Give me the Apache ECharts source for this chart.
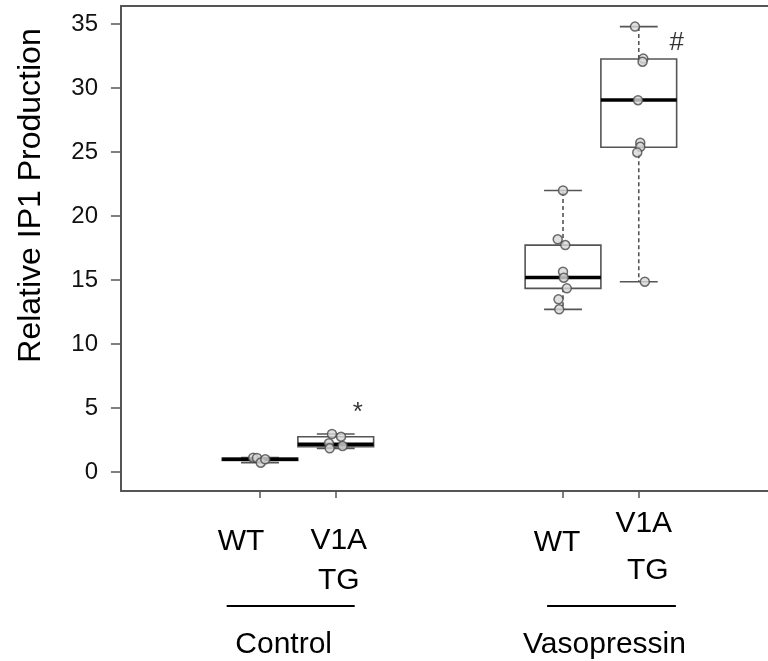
<!DOCTYPE html>
<html>
<head>
<meta charset="utf-8">
<script src="https://cdn.jsdelivr.net/npm/echarts@6/dist/echarts.min.js"></script>
<style>
  html, body { margin: 0; padding: 0; background: #fff; }
  #chart { width: 768px; height: 661px; }
</style>
</head>
<body>
<div id="chart"></div>
<script>
// group positions on the x axis and their labels
const positions = [1, 2, 5, 6];
const tickLabels = ["WT", "V1A\nTG", "WT", "V1A\nTG"];
const groupNames = ["Control", "Vasopressin"];
const groupSpans = [[0.56, 2.25], [4.79, 6.49]];
const yTicks = [0, 5, 10, 15, 20, 25, 30, 35];

// box stats: [min, q1, median, q3, max]
const ctrlWtBox = [0.73, 0.9, 1.0, 1.08, 1.12];
const ctrlTgBox = [1.85, 1.98, 2.16, 2.76, 2.97];
const vasoWtBox = [12.71, 14.35, 15.2, 17.73, 22.0];
const vasoTgBox = [14.87, 25.37, 29.06, 32.27, 34.8];

// individual points and their horizontal jitter
const ctrlWtPts = [1.12, 1.1, 0.73, 0.99];
const ctrlWtJit = [-0.09, -0.04, 0.01, 0.07];
const ctrlTgPts = [2.97, 2.76, 2.24, 1.85, 2.03];
const ctrlTgJit = [-0.05, 0.07, -0.09, -0.08, 0.09];
const vasoWtPts = [22.0, 18.18, 17.73, 15.65, 15.18, 14.35, 13.49, 12.71];
const vasoWtJit = [0, -0.07, 0.03, 0, 0.01, 0.05, -0.06, -0.05];
const vasoTgPts = [34.8, 32.3, 32.06, 29.05, 25.73, 25.41, 24.97, 14.87];
const vasoTgJit = [-0.05, 0.06, 0.05, -0.01, 0.02, 0.02, -0.02, 0.08];

// significance marks
const marks = [
    { x: 2.29, y: 4.6, text: "*" },
    { x: 6.5, y: 33.5, text: "#" },
];

const boxes = [ctrlWtBox, ctrlTgBox, vasoWtBox, vasoTgBox];
const pts = [ctrlWtPts, ctrlTgPts, vasoWtPts, vasoTgPts];
const jits = [ctrlWtJit, ctrlTgJit, vasoWtJit, vasoTgJit];

const FONT = "'Liberation Sans', Arial, sans-serif";
const LINE = "#555";

const boxData = boxes.map((b, i) => [positions[i]].concat(b));
const pointData = [];
pts.forEach((arr, i) => {
    arr.forEach((v, j) => pointData.push([positions[i] + jits[i][j], v]));
});

// label styles per tick (rich keys)
const labelKeys = [["c1"], ["c2a", "c2b"], ["v1"], ["v2a", "v2b"]];

const renderBox = (params, api) => {
    const x = api.value(0);
    const w = api.size([1, 0])[0];
    const half = w / 2;
    const cap = w / 4;
    const pMin = api.coord([x, api.value(1)]);
    const pQ1 = api.coord([x, api.value(2)]);
    const pMed = api.coord([x, api.value(3)]);
    const pQ3 = api.coord([x, api.value(4)]);
    const pMax = api.coord([x, api.value(5)]);
    const cx = pMed[0];
    const thin = { stroke: LINE, lineWidth: 1.6, fill: null };
    const dash = { stroke: LINE, lineWidth: 1.6, lineDash: [4, 3] };
    return {
        type: "group",
        children: [
            { type: "line", shape: { x1: cx, y1: pQ3[1], x2: cx, y2: pMax[1] }, style: dash },
            { type: "line", shape: { x1: cx, y1: pQ1[1], x2: cx, y2: pMin[1] }, style: dash },
            { type: "line", shape: { x1: cx - cap, y1: pMax[1], x2: cx + cap, y2: pMax[1] }, style: thin },
            { type: "line", shape: { x1: cx - cap, y1: pMin[1], x2: cx + cap, y2: pMin[1] }, style: thin },
            {
                type: "rect",
                shape: { x: cx - half, y: pQ3[1], width: w, height: pQ1[1] - pQ3[1] },
                style: thin,
            },
            {
                type: "line",
                shape: { x1: cx - half, y1: pMed[1], x2: cx + half, y2: pMed[1] },
                style: { stroke: "#000", lineWidth: 3.5 },
            },
        ],
    };
};

const chart = echarts.init(document.getElementById("chart"));

const option = {
    animation: false,
    grid: {
        left: 121,
        top: 6,
        right: 0,
        bottom: 170,
    },
    xAxis: [
        {
            type: "value",
            min: -0.835,
            max: 7.706,
            splitLine: { show: false },
            axisLine: { onZero: false, lineStyle: { color: LINE, width: 2 } },
            axisTick: {
                customValues: positions,
                length: 7,
                lineStyle: { color: LINE, width: 1.5 },
            },
            axisLabel: {
                customValues: positions,
                margin: 18,
                formatter: (val) => {
                    const i = positions.indexOf(val);
                    if (i < 0) return "";
                    const lines = tickLabels[i].split("\n");
                    return lines.map((t, k) => "{" + labelKeys[i][k] + "|" + t + "}").join("\n");
                },
                rich: {
                    c1: { fontSize: 30, fontFamily: FONT, color: "#000", lineHeight: 66, padding: [0, 38, 0, 0] },
                    c2a: { fontSize: 30, fontFamily: FONT, color: "#000", lineHeight: 64, padding: [0, 0, 0, 6] },
                    c2b: { fontSize: 30, fontFamily: FONT, color: "#000", lineHeight: 16, padding: [0, 0, 0, 6] },
                    v1: { fontSize: 30, fontFamily: FONT, color: "#000", lineHeight: 68, padding: [0, 12, 0, 0] },
                    v2a: { fontSize: 30, fontFamily: FONT, color: "#000", lineHeight: 30, padding: [0, 0, 0, 10] },
                    v2b: { fontSize: 30, fontFamily: FONT, color: "#000", lineHeight: 64, padding: [0, 0, 0, 18] },
                },
            },
        },
        {
            // top frame line
            type: "value",
            position: "top",
            min: -0.835,
            max: 7.706,
            splitLine: { show: false },
            axisLine: { show: true, onZero: false, lineStyle: { color: LINE, width: 2 } },
            axisTick: { show: false },
            axisLabel: { show: false },
        },
    ],
    yAxis: {
        type: "value",
        min: -1.484,
        max: 36.41,
        name: "Relative IP1 Production",
        nameLocation: "middle",
        nameGap: 74,
        nameTextStyle: {
            fontSize: 32,
            fontFamily: FONT,
            color: "#000",
            padding: [0, 0, 0, 106],
        },
        splitLine: { show: false },
        axisLine: { show: true, onZero: false, lineStyle: { color: LINE, width: 2 } },
        axisTick: {
            show: true,
            customValues: yTicks,
            length: 10,
            lineStyle: { color: LINE, width: 1.5 },
        },
        axisLabel: {
            customValues: yTicks,
            margin: 23,
            fontSize: 24,
            fontFamily: FONT,
            color: "#111",
        },
    },
    series: [
        {
            type: "custom",
            renderItem: renderBox,
            data: boxData,
            encode: { x: 0, y: [1, 2, 3, 4, 5] },
            z: 2,
        },
        {
            type: "scatter",
            data: pointData,
            symbol: "circle",
            symbolSize: 9,
            itemStyle: { color: "#d8d8d8", borderColor: "#4a4a4a", borderWidth: 1.5 },
            z: 3,
        },
        {
            type: "scatter",
            data: marks.map((m) => ({ value: [m.x, m.y], text: m.text })),
            symbolSize: 0,
            label: {
                show: true,
                position: "inside",
                formatter: (p) => p.data.text,
                fontSize: 26,
                fontFamily: FONT,
                color: "#000",
            },
            z: 4,
        },
    ],
};

chart.setOption(option);

// group underlines and names under the axis labels
const graphics = [];
groupNames.forEach((name, i) => {
    const x1 = chart.convertToPixel({ xAxisIndex: 0 }, groupSpans[i][0]);
    const x2 = chart.convertToPixel({ xAxisIndex: 0 }, groupSpans[i][1]);
    graphics.push({
        type: "line",
        shape: { x1: x1, y1: 606, x2: x2, y2: 606 },
        style: { stroke: "#000", lineWidth: 2 },
    });
    graphics.push({
        type: "text",
        x: (x1 + x2) / 2 - 7,
        y: 645,
        style: {
            text: name,
            fontSize: 30,
            fontFamily: FONT,
            fill: "#000",
            align: "center",
            verticalAlign: "middle",
        },
    });
});
chart.setOption({ graphic: graphics });

window.addEventListener("resize", () => chart.resize());
</script>
</body>
</html>
